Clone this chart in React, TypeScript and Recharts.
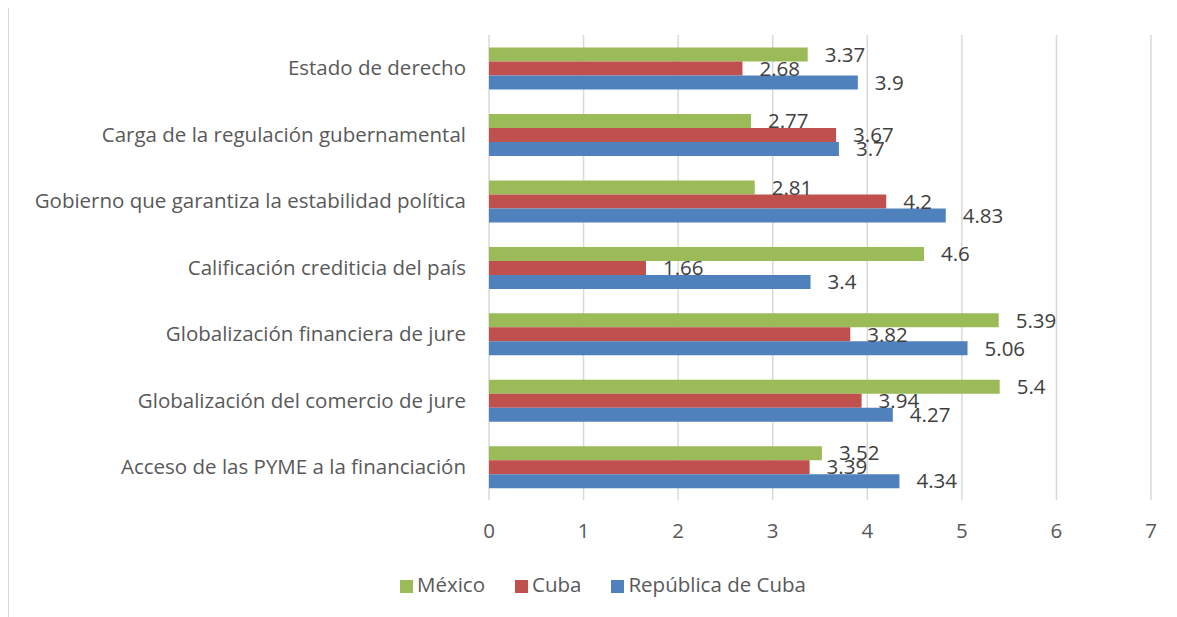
import React from "react";
import { BarChart, Bar, XAxis, YAxis, CartesianGrid, Legend, LabelList } from "recharts";

const categories = [
  "Estado de derecho",
  "Carga de la regulación gubernamental",
  "Gobierno que garantiza la estabilidad política",
  "Calificación crediticia del país",
  "Globalización financiera de jure ",
  "Globalización del comercio de jure",
  "Acceso de las PYME a la financiación",
];
const mexico = [3.37, 2.77, 2.81, 4.6, 5.39, 5.4, 3.52];
const cuba = [2.68, 3.67, 4.2, 1.66, 3.82, 3.94, 3.39];
const republica = [3.9, 3.7, 4.83, 3.4, 5.06, 4.27, 4.34];
const xTicks = [0, 1, 2, 3, 4, 5, 6, 7];
const seriesOrder = ["México", "Cuba", "República de Cuba"];

const data = categories.map((c, i) => ({
  name: c,
  mexico: mexico[i],
  cuba: cuba[i],
  republica: republica[i],
}));

const FONT = "'Open Sans', sans-serif";
const TXT = "#595959";
const LBL = "#404040";
const FS = 20.5;

export default function App() {
  return (
    <div
      style={{
        marginTop: -3,
        width: 1180,
        height: 620,
        borderTop: "1px solid #d9d9d9",
        borderLeft: "1px solid #d9d9d9",
        boxSizing: "border-box",
        fontFamily: FONT,
      }}
    >
      <BarChart
        width={1170}
        height={611}
        data={data}
        layout="vertical"
        margin={{ top: 29, right: 28, left: 0, bottom: 29 }}
        barCategoryGap="19%"
        barGap={0}
      >
        <CartesianGrid horizontal={false} stroke="#d9d9d9" strokeWidth={1.5} />
        <XAxis
          type="number"
          domain={[0, 7]}
          ticks={xTicks}
          axisLine={false}
          tickLine={false}
          height={60}
          tickMargin={17}
          tick={{ fill: TXT, fontSize: FS, fontFamily: FONT }}
        />
        <YAxis
          type="category"
          dataKey="name"
          width={480}
          axisLine={false}
          tickLine={false}
          tickMargin={17}
          tick={{ fill: TXT, fontSize: FS, fontFamily: FONT }}
        />
        <Legend
          verticalAlign="bottom"
          iconType="square"
          iconSize={13}
          itemSorter={(item: any) => seriesOrder.indexOf(item.value)}
          wrapperStyle={{ top: 564, left: 38, fontSize: FS, fontFamily: FONT }}
          formatter={(v: string) => <span style={{ color: TXT, marginRight: 20 }}>{v}</span>}
        />
        <Bar dataKey="mexico" name="México" fill="#9BBB59" isAnimationActive={false}>
          <LabelList dataKey="mexico" position="right" offset={17} fill={LBL} fontSize={FS} fontFamily={FONT} />
        </Bar>
        <Bar dataKey="cuba" name="Cuba" fill="#C0504D" isAnimationActive={false}>
          <LabelList dataKey="cuba" position="right" offset={17} fill={LBL} fontSize={FS} fontFamily={FONT} />
        </Bar>
        <Bar dataKey="republica" name="República de Cuba" fill="#4F81BD" isAnimationActive={false}>
          <LabelList dataKey="republica" position="right" offset={17} fill={LBL} fontSize={FS} fontFamily={FONT} />
        </Bar>
      </BarChart>
    </div>
  );
}
